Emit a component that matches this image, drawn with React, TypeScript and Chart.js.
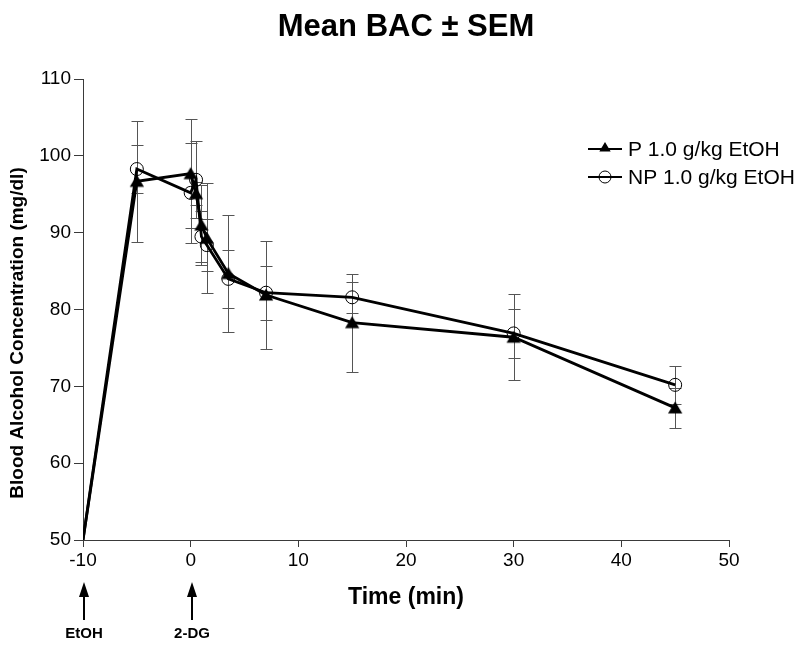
import { useEffect, useRef } from 'react';
import { Chart, registerables } from 'chart.js';

Chart.register(...registerables);

// ---- data ----
const timeMin = [-10, -5, 0, 0.5, 1, 1.5, 3.5, 7, 15, 30, 45];
const pMean = [50, 96.7, 97.7, 95.1, 91.0, 89.3, 84.7, 81.9, 78.3, 76.4, 67.2];
const pSem = [0, 7.85, 7.1, 1.5, 5.2, 7.2, 7.6, 7.0, 6.4, 5.6, 2.6];
const npMean = [50, 98.3, 95.2, 96.9, 89.5, 88.4, 84.0, 82.2, 81.6, 76.9, 70.2];
const npSem = [0, 3.1, 6.5, 5.0, 3.3, 3.4, 3.8, 3.5, 2.05, 3.2, 2.5];
const seriesNames = ['P 1.0 g/kg EtOH', 'NP 1.0 g/kg EtOH'];
const xTicks = [-10, 0, 10, 20, 30, 40, 50];
const yTicks = [50, 60, 70, 80, 90, 100, 110];
const eventTimes = [-10, 0];
const eventLabels = ['EtOH', '2-DG'];
const yTitle = 'Blood Alcohol Concentration (mg/dl)';

const FONT = 'Arial, "Liberation Sans", Helvetica, sans-serif';
const AXIS = '#3a3a3a';
const ERR = '#555555';

function drawTriangle(ctx: CanvasRenderingContext2D, cx: number, cy: number, r: number) {
  ctx.beginPath();
  ctx.moveTo(cx, cy - r);
  ctx.lineTo(cx + r * 0.95, cy + r * 0.6);
  ctx.lineTo(cx - r * 0.95, cy + r * 0.6);
  ctx.closePath();
  ctx.fill();
}

const errorBarPlugin = {
  id: 'errorBars',
  beforeDatasetsDraw(chart: any) {
    const { ctx, scales } = chart;
    const x = scales.x;
    const y = scales.y;
    ctx.save();
    ctx.strokeStyle = ERR;
    ctx.lineWidth = 1;
    const groups: [number[], number[]][] = [
      [pMean, pSem],
      [npMean, npSem],
    ];
    groups.forEach(([m, s]) => {
      timeMin.forEach((t, i) => {
        if (!s[i]) return;
        const px = Math.round(x.getPixelForValue(t)) + 0.5;
        const yt = Math.round(y.getPixelForValue(m[i] + s[i])) + 0.5;
        const yb = Math.round(y.getPixelForValue(m[i] - s[i])) + 0.5;
        ctx.beginPath();
        ctx.moveTo(px, yt);
        ctx.lineTo(px, yb);
        ctx.moveTo(px - 6, yt);
        ctx.lineTo(px + 6, yt);
        ctx.moveTo(px - 6, yb);
        ctx.lineTo(px + 6, yb);
        ctx.stroke();
      });
    });
    ctx.restore();
  },
};

const annotationPlugin = {
  id: 'annotations',
  afterDraw(chart: any) {
    const { ctx, scales, chartArea } = chart;
    const x = scales.x;
    ctx.save();
    // y axis title
    ctx.save();
    ctx.translate(18, 333);
    ctx.rotate(-Math.PI / 2);
    ctx.font = `bold 19px ${FONT}`;
    ctx.fillStyle = '#000';
    ctx.textAlign = 'center';
    ctx.textBaseline = 'middle';
    ctx.fillText(yTitle, 0, 0);
    ctx.restore();
    // legend
    const lx0 = chartArea.right - 141;
    const rows = [149, 177];
    ctx.strokeStyle = '#000';
    ctx.fillStyle = '#000';
    ctx.lineWidth = 2;
    rows.forEach((ry, i) => {
      ctx.beginPath();
      ctx.moveTo(lx0, ry);
      ctx.lineTo(lx0 + 34, ry);
      ctx.stroke();
      if (i === 0) {
        drawTriangle(ctx, lx0 + 17, ry - 1, 6);
      } else {
        ctx.lineWidth = 1;
        ctx.beginPath();
        ctx.arc(lx0 + 17, ry, 6, 0, Math.PI * 2);
        ctx.stroke();
        ctx.lineWidth = 2;
      }
      ctx.font = `21px ${FONT}`;
      ctx.textAlign = 'left';
      ctx.textBaseline = 'middle';
      ctx.fillText(seriesNames[i], lx0 + 40, ry + 1);
    });
    // event arrows
    eventTimes.forEach((t, i) => {
      const px = Math.round(x.getPixelForValue(t)) + 1;
      ctx.lineWidth = 2;
      ctx.beginPath();
      ctx.moveTo(px, 620);
      ctx.lineTo(px, 594);
      ctx.stroke();
      ctx.beginPath();
      ctx.moveTo(px, 582);
      ctx.lineTo(px + 5, 597);
      ctx.lineTo(px - 5, 597);
      ctx.closePath();
      ctx.fill();
      ctx.font = `bold 15px ${FONT}`;
      ctx.textAlign = 'center';
      ctx.textBaseline = 'middle';
      ctx.fillText(eventLabels[i], px, 634);
    });
    ctx.restore();
  },
};

export default function App() {
  const ref = useRef<HTMLCanvasElement | null>(null);

  useEffect(() => {
    document.body.style.margin = '0';
    const canvas = ref.current;
    if (!canvas) return;
    const triangle = (() => {
      const c = document.createElement('canvas');
      c.width = 16;
      c.height = 16;
      const g = c.getContext('2d')!;
      g.fillStyle = '#000';
      drawTriangle(g, 8, 9, 7.5);
      return c;
    })();
    const pointRadiusFor = (r: number) => timeMin.map((t) => (t === -10 ? 0 : r));
    const chart = new Chart(canvas, {
      type: 'line',
      data: {
        datasets: [
          {
            label: seriesNames[0],
            data: timeMin.map((t, i) => ({ x: t, y: pMean[i] })),
            borderColor: '#000',
            borderWidth: 2.8,
            backgroundColor: '#000',
            pointStyle: timeMin.map((t) => (t === -10 ? 'circle' : (triangle as any))) as any,
            pointRadius: pointRadiusFor(7),
            tension: 0,
          },
          {
            label: seriesNames[1],
            data: timeMin.map((t, i) => ({ x: t, y: npMean[i] })),
            borderColor: '#000',
            borderWidth: 2.8,
            backgroundColor: 'rgba(0,0,0,0)',
            pointStyle: 'circle',
            pointRadius: pointRadiusFor(6.5),
            pointBorderWidth: 1,
            pointBorderColor: '#000',
            pointBackgroundColor: 'rgba(0,0,0,0)',
            tension: 0,
          },
        ],
      },
      options: {
        responsive: false,
        animation: false,
        devicePixelRatio: 1,
        layout: { padding: { left: 0, right: 71, top: 0, bottom: 0 } },
        plugins: {
          legend: { display: false },
          tooltip: { enabled: false },
          title: {
            display: true,
            text: 'Mean BAC \u00B1 SEM',
            color: '#000',
            font: { family: FONT, size: 31, weight: 'bold' },
            padding: { top: 9, bottom: 33 },
            fullSize: false,
          },
        },
        scales: {
          x: {
            type: 'linear',
            min: -10,
            max: 50,
            afterBuildTicks: (scale: any) => {
              scale.ticks = xTicks.map((v) => ({ value: v }));
            },
            afterFit: (scale: any) => {
              scale.height = 108;
            },
            ticks: {
              color: '#000',
              font: { family: FONT, size: 19 },
              padding: 2,
            },
            grid: {
              display: true,
              drawOnChartArea: false,
              drawTicks: true,
              tickLength: 7,
              color: AXIS,
              lineWidth: 1,
            },
            border: { display: true, color: AXIS, width: 1 },
            title: {
              display: true,
              text: 'Time (min)',
              color: '#000',
              font: { family: FONT, size: 23, weight: 'bold' },
              padding: { top: 0, bottom: 37 },
            },
          },
          y: {
            type: 'linear',
            min: 50,
            max: 110,
            afterBuildTicks: (scale: any) => {
              scale.ticks = yTicks.map((v) => ({ value: v }));
            },
            afterFit: (scale: any) => {
              scale.width = 83;
            },
            ticks: {
              color: '#000',
              font: { family: FONT, size: 19 },
              padding: 3,
            },
            grid: {
              display: true,
              drawOnChartArea: false,
              drawTicks: true,
              tickLength: 9,
              color: AXIS,
              lineWidth: 1,
            },
            border: { display: true, color: AXIS, width: 1 },
            title: { display: false },
          },
        },
      },
      plugins: [errorBarPlugin, annotationPlugin],
    });
    return () => chart.destroy();
  }, []);

  return (
    <div style={{ width: 800, height: 648 }}>
      <canvas ref={ref} width={800} height={648} style={{ display: 'block', width: 800, height: 648 }} />
    </div>
  );
}
